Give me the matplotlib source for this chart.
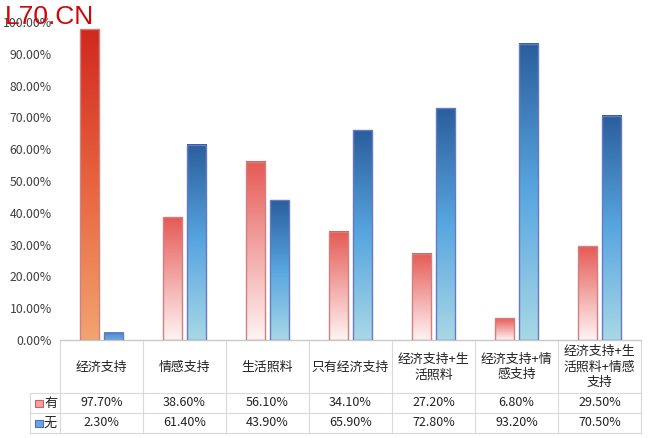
import numpy as np
import matplotlib
matplotlib.use('Agg')
import matplotlib.pyplot as plt
from matplotlib.colors import LinearSegmentedColormap
from matplotlib.patches import Rectangle
from matplotlib.lines import Line2D
from matplotlib.transforms import blended_transform_factory

plt.rcParams['font.family'] = ['Noto Sans CJK SC', 'DejaVu Sans']

categories = ['经济支持', '情感支持', '生活照料', '只有经济支持',
              '经济支持+生\n活照料', '经济支持+情\n感支持', '经济支持+生\n活照料+情感\n支持']
yes_vals = [97.7, 38.6, 56.1, 34.1, 27.2, 6.8, 29.5]
no_vals = [2.3, 61.4, 43.9, 65.9, 72.8, 93.2, 70.5]
series_names = ['有', '无']
yticks = list(range(0, 101, 10))

W, H = 650, 438
fig = plt.figure(figsize=(W / 100, H / 100), dpi=100)
ax = fig.add_axes([60 / W, 1 - 340 / H, (641 - 60) / W, (340 - 22) / H])
ax.set_xlim(-0.5, len(categories) - 0.5)
ax.set_ylim(0, 100)

# gradients, top colour first
cm_red = LinearSegmentedColormap.from_list('r', ['#fff4f4', '#f2a8a6', '#e65a55'])
cm_red0 = LinearSegmentedColormap.from_list('r0', ['#f2a470', '#e8643f', '#d0281e'])
cm_blue = LinearSegmentedColormap.from_list('b', ['#a8d8e6', '#58a6e0', '#2a5e9c'])
cm_blue0 = LinearSegmentedColormap.from_list('b0', ['#6aa8e0', '#4a8ad0'])
grad = np.linspace(0, 1, 256).reshape(-1, 1)

bw = 0.23
off = 0.145


def grad_bar(x, h, cmap, ec):
    ax.imshow(grad, cmap=cmap, aspect='auto', origin='lower',
              extent=(x - bw / 2, x + bw / 2, 0, h), zorder=2)
    ax.add_patch(Rectangle((x - bw / 2, 0), bw, h, fill=False, ec=ec, lw=1.0, zorder=3))


for i, (y1, y2) in enumerate(zip(yes_vals, no_vals)):
    grad_bar(i - off, y1, cm_red0 if i == 0 else cm_red, '#d08080')
    grad_bar(i + off, y2, cm_blue0 if i == 0 else cm_blue, '#6a78c4')

ax.set_xlim(-0.5, len(categories) - 0.5)
ax.set_ylim(0, 100)
ax.set_yticks(yticks)
ax.set_yticklabels(['%.2f%%' % v for v in yticks], fontsize=8.8, color='#404040')
ax.tick_params(axis='y', length=0, pad=6)
ax.set_xticks([])
for s in ['top', 'right', 'left']:
    ax.spines[s].set_visible(False)
ax.spines['bottom'].set_color('#c8c8c8')
ax.spines['bottom'].set_linewidth(1.0)

# data table below the axis
tr = blended_transform_factory(ax.transData, fig.transFigure)


def fy(py):
    return 1 - py / H


lc = '#d9d9d9'
n = len(categories)
for k in range(n + 1):
    fig.add_artist(Line2D([k - 0.5, k - 0.5], [fy(341), fy(433)], transform=tr, color=lc, lw=0.8))
for py in [393, 413, 433]:
    fig.add_artist(Line2D([30 / W, 641 / W], [fy(py), fy(py)], color=lc, lw=0.8))
fig.add_artist(Line2D([30 / W, 30 / W], [fy(393), fy(433)], color=lc, lw=0.8))

for k, c in enumerate(categories):
    fig.text(k, fy(367), c, transform=tr, ha='center', va='center', fontsize=9.3,
             color='#222222', linespacing=1.25)
    fig.text(k, fy(403), '%.2f%%' % yes_vals[k], transform=tr, ha='center', va='center',
             fontsize=9, color='#222222')
    fig.text(k, fy(423), '%.2f%%' % no_vals[k], transform=tr, ha='center', va='center',
             fontsize=9, color='#222222')

key_cols = [('#f2a0a0', '#d06060'), ('#6fa3e0', '#4a6fc0')]
for j, (name, py) in enumerate(zip(series_names, [403, 423])):
    fc, ec = key_cols[j]
    fig.add_artist(Rectangle((35 / W, fy(py + 3.5)), 8 / W, 7 / H, fc=fc, ec=ec, lw=0.8))
    fig.text(44 / W, fy(py), name, ha='left', va='center', fontsize=9.5, color='#222222')

fig.text(5 / W, fy(17), 'L70.CN', ha='left', va='center', fontsize=19,
         family='Liberation Sans', color='#cc0a0a', zorder=10)

fig.savefig('out.png', dpi=100, facecolor='white')
